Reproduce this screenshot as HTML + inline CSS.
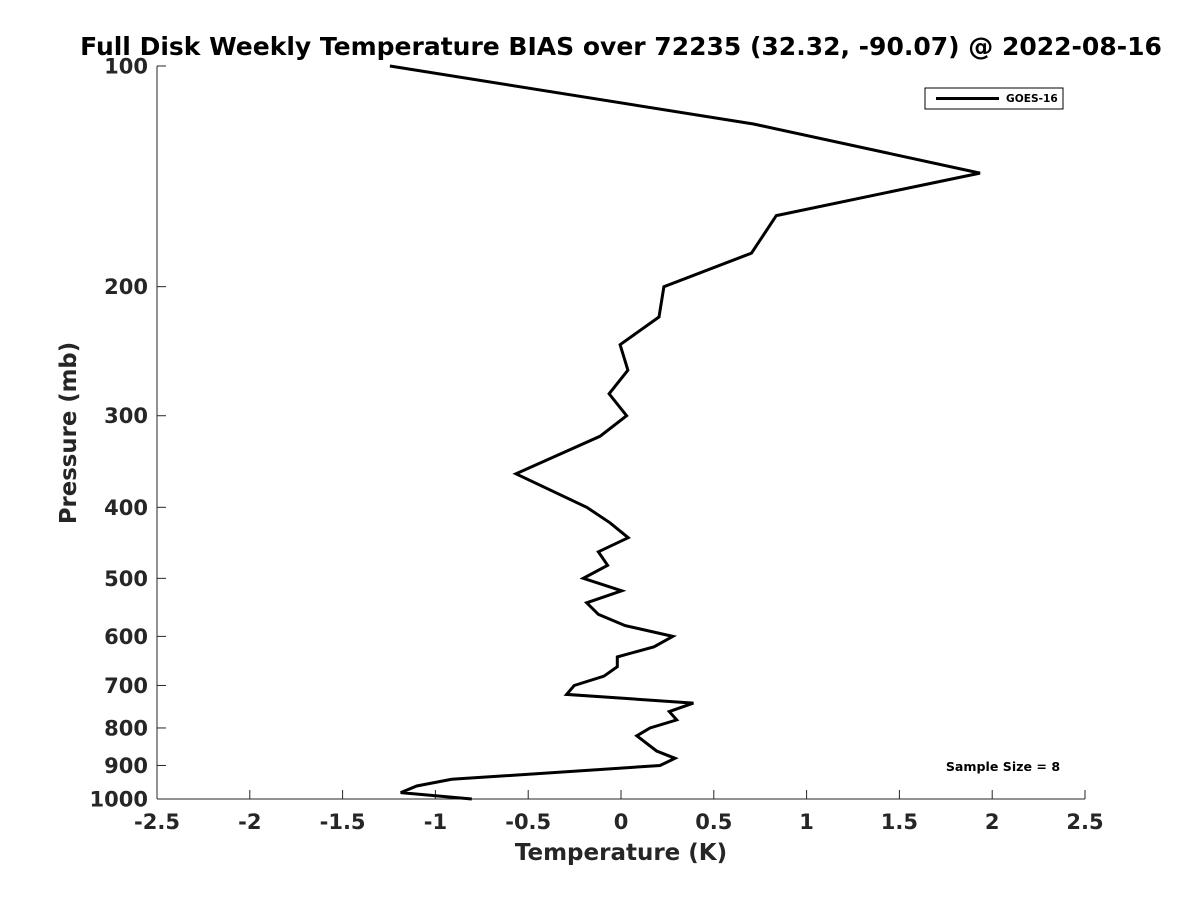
<!DOCTYPE html>
<html><head><meta charset="utf-8"><style>
body{margin:0;background:#fff;}
svg text{font-family:"DejaVu Sans","Liberation Sans",sans-serif;font-weight:bold;}
</style></head><body>
<svg id="chart" width="1200" height="900">
<rect width="1200" height="900" fill="#fff"/>
<text x="621" y="55" font-size="25" text-anchor="middle" fill="#000">Full Disk Weekly Temperature BIAS over 72235 (32.32, -90.07) @ 2022-08-16</text>
<g id="axes"></g>
<polyline id="series" fill="none" stroke="#000" stroke-width="3" stroke-linejoin="miter"/>
<g>
<rect x="925" y="88" width="138" height="21" fill="#fff" stroke="#000" stroke-width="1"/>
<line x1="936" y1="98.5" x2="999" y2="98.5" stroke="#000" stroke-width="3"/>
<text x="1006" y="102" font-size="10.6" fill="#000">GOES-16</text>
</g>
<text x="1003" y="771" font-size="12.6" text-anchor="middle" fill="#000">Sample Size = 8</text>
<text x="621" y="860" font-size="23" text-anchor="middle" fill="#262626">Temperature (K)</text>
<text transform="translate(76,433) rotate(-90)" font-size="22.8" text-anchor="middle" fill="#262626">Pressure (mb)</text>
</svg>
<script>
const temps=[-1.245,0.714,1.934,0.837,0.703,0.231,0.205,-0.005,0.037,-0.064,0.030,-0.113,-0.566,-0.185,-0.059,0.039,-0.122,-0.072,-0.203,0.004,-0.185,-0.122,0.022,0.279,0.178,-0.020,-0.020,-0.092,-0.252,-0.293,0.390,0.260,0.300,0.156,0.085,0.192,0.291,0.210,-0.912,-1.101,-1.187,-0.804];
const pressures=[100,120,140,160,180,200,220,240,260,280,300,320,360,400,420,440,460,480,500,520,540,560,580,600,620,640,660,680,700,720,740,760,780,800,820,860,880,900,940,960,980,1000];
const xTicks=[-2.5,-2,-1.5,-1,-0.5,0,0.5,1,1.5,2,2.5];
const yTicks=[100,200,300,400,500,600,700,800,900,1000];
const L=157,R=1085,T=66,B=799;
function xs(v){return L+(v+2.5)/5*(R-L);}
function ys(p){return T+Math.log10(p/100)*(B-T);}
const NS='http://www.w3.org/2000/svg';
const ax=document.getElementById('axes');
function mk(tag,attrs,parent){const e=document.createElementNS(NS,tag);for(const k in attrs)e.setAttribute(k,attrs[k]);parent.appendChild(e);return e;}
let e=mk('line',{x1:L,y1:T,x2:L,y2:B,stroke:'#262626','stroke-width':1},ax);


e=mk('line',{x1:L,y1:B,x2:R,y2:B,stroke:'#262626','stroke-width':1},ax);


xTicks.forEach(v=>{const x=xs(v);
 let t=mk('line',{x1:x,y1:B,x2:x,y2:B-9,stroke:'#262626','stroke-width':1},ax);
 
 
 let l=mk('text',{x:x,y:B+30,'font-size':21,'text-anchor':'middle',fill:'#262626'},ax);
 l.textContent=String(v);
 
 
});
yTicks.forEach(p=>{const y=ys(p);
 let t=mk('line',{x1:L,y1:y,x2:L+9,y2:y,stroke:'#262626','stroke-width':1},ax);
 
 
 let l=mk('text',{x:L-9,y:y+7.5,'font-size':21,'text-anchor':'end',fill:'#262626'},ax);
 l.textContent=String(p);
 
 
});
document.getElementById('series').setAttribute('points',temps.map((v,i)=>xs(v).toFixed(1)+','+ys(pressures[i]).toFixed(1)).join(' '));
</script>
</body></html>
